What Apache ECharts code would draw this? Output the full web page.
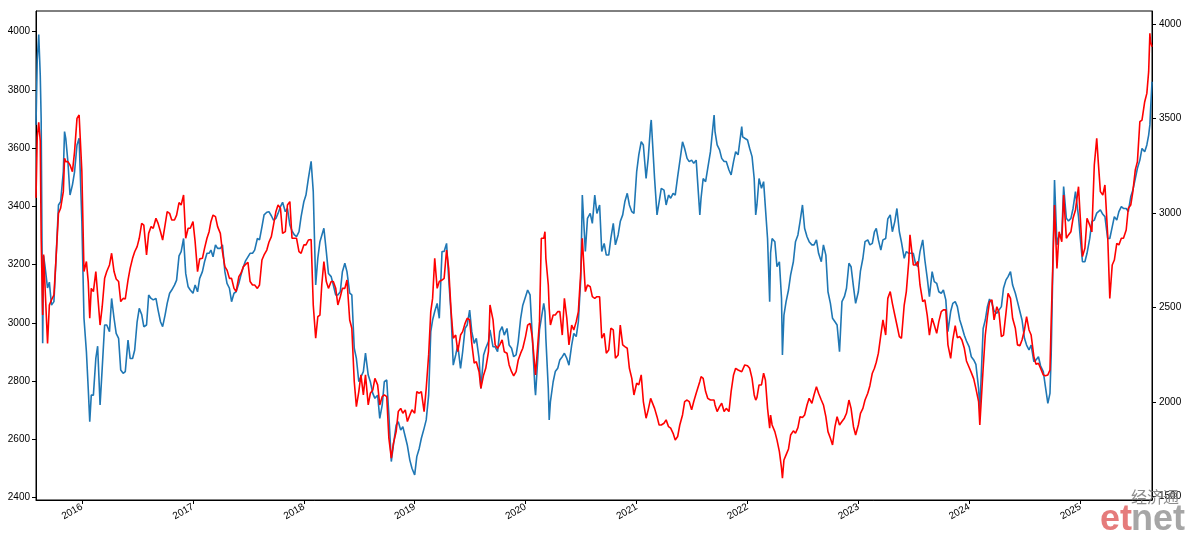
<!DOCTYPE html>
<html>
<head>
<meta charset="utf-8">
<script src="https://cdn.jsdelivr.net/npm/echarts@6/dist/echarts.min.js"></script>
<style>
html,body{margin:0;padding:0;background:#fff;}
#chart{width:1188px;height:535px;}
</style>
</head>
<body>
<div id="chart"></div>
<script>
const dates = [
// 2015
'2015-08-03','2015-08-07','2015-08-12','2015-08-17','2015-08-20','2015-08-25','2015-08-28','2015-09-01','2015-09-10','2015-09-16','2015-09-23','2015-10-01','2015-10-08','2015-10-16','2015-10-23','2015-11-01','2015-11-05','2015-11-09','2015-11-16','2015-11-23','2015-12-01','2015-12-08','2015-12-16','2015-12-23',
// 2016
'2016-01-01','2016-01-08','2016-01-16','2016-01-22','2016-01-27','2016-02-01','2016-02-08','2016-02-16','2016-02-22','2016-03-01','2016-03-08','2016-03-16','2016-03-23','2016-04-01','2016-04-08','2016-04-16','2016-04-23','2016-05-01','2016-05-08','2016-05-16','2016-05-23','2016-06-01','2016-06-08','2016-06-16','2016-06-23','2016-07-01','2016-07-08','2016-07-16','2016-07-23','2016-08-01','2016-08-08','2016-08-16','2016-08-23','2016-09-01','2016-09-08','2016-09-16','2016-09-23','2016-10-01','2016-10-08','2016-10-16','2016-10-23','2016-11-01','2016-11-08','2016-11-16','2016-11-23','2016-12-01','2016-12-08','2016-12-16','2016-12-23',
// 2017
'2017-01-01','2017-01-08','2017-01-16','2017-01-23','2017-02-01','2017-02-08','2017-02-16','2017-02-23','2017-03-01','2017-03-08','2017-03-16','2017-03-23','2017-04-01','2017-04-08','2017-04-16','2017-04-23','2017-05-01','2017-05-08','2017-05-16','2017-05-23','2017-06-01','2017-06-08','2017-06-16','2017-06-23','2017-07-01','2017-07-08','2017-07-16','2017-07-23','2017-08-01','2017-08-08','2017-08-16','2017-08-23','2017-09-01','2017-09-08','2017-09-16','2017-09-23','2017-10-01','2017-10-08','2017-10-16','2017-10-23','2017-11-01','2017-11-08','2017-11-16','2017-11-23','2017-12-01','2017-12-08','2017-12-16','2017-12-23',
// 2018
'2018-01-01','2018-01-08','2018-01-16','2018-01-25','2018-02-01','2018-02-09','2018-02-16','2018-02-23','2018-03-01','2018-03-08','2018-03-16','2018-03-23','2018-04-01','2018-04-08','2018-04-16','2018-04-23','2018-05-01','2018-05-08','2018-05-16','2018-05-23','2018-06-01','2018-06-08','2018-06-16','2018-06-23','2018-07-01','2018-07-08','2018-07-16','2018-07-23','2018-08-01','2018-08-08','2018-08-16','2018-08-23','2018-09-01','2018-09-08','2018-09-16','2018-09-23','2018-10-01','2018-10-08','2018-10-16','2018-10-23','2018-11-01','2018-11-08','2018-11-16','2018-11-23','2018-12-01','2018-12-08','2018-12-16','2018-12-23',
// 2019
'2019-01-01','2019-01-08','2019-01-16','2019-01-23','2019-02-01','2019-02-08','2019-02-16','2019-02-23','2019-03-01','2019-03-08','2019-03-16','2019-03-23','2019-04-01','2019-04-08','2019-04-16','2019-04-23','2019-05-01','2019-05-08','2019-05-16','2019-05-23','2019-06-01','2019-06-08','2019-06-16','2019-06-23','2019-07-01','2019-07-08','2019-07-16','2019-07-23','2019-08-01','2019-08-07','2019-08-16','2019-08-23','2019-09-01','2019-09-06','2019-09-16','2019-09-23','2019-10-01','2019-10-08','2019-10-16','2019-10-23','2019-11-01','2019-11-08','2019-11-16','2019-11-23','2019-12-01','2019-12-08','2019-12-16','2019-12-23',
// 2020
'2020-01-01','2020-01-08','2020-01-16','2020-01-23','2020-02-01','2020-02-03','2020-02-16','2020-02-22','2020-03-01','2020-03-05','2020-03-08','2020-03-16','2020-03-19','2020-03-23','2020-04-01','2020-04-08','2020-04-16','2020-04-23','2020-05-01','2020-05-08','2020-05-16','2020-05-23','2020-06-01','2020-06-08','2020-06-16','2020-06-23','2020-07-01','2020-07-06','2020-07-16','2020-07-23','2020-08-01','2020-08-08','2020-08-16','2020-08-23','2020-09-01','2020-09-08','2020-09-16','2020-09-23','2020-10-01','2020-10-08','2020-10-16','2020-10-23','2020-11-01','2020-11-08','2020-11-16','2020-11-23','2020-12-01','2020-12-08','2020-12-16','2020-12-23',
// 2021
'2021-01-01','2021-01-08','2021-01-16','2021-01-23','2021-02-01','2021-02-08','2021-02-16','2021-02-18','2021-03-01','2021-03-09','2021-03-16','2021-03-23','2021-04-01','2021-04-08','2021-04-16','2021-04-23','2021-05-01','2021-05-08','2021-05-16','2021-05-23','2021-06-01','2021-06-08','2021-06-16','2021-06-23','2021-07-01','2021-07-08','2021-07-16','2021-07-28','2021-08-01','2021-08-08','2021-08-16','2021-08-23','2021-09-01','2021-09-13','2021-09-16','2021-09-23','2021-10-01','2021-10-08','2021-10-16','2021-10-23','2021-11-01','2021-11-08','2021-11-16','2021-11-23','2021-12-01','2021-12-13','2021-12-16','2021-12-23',
// 2022
'2022-01-01','2022-01-08','2022-01-16','2022-01-23','2022-01-28','2022-02-01','2022-02-08','2022-02-16','2022-02-23','2022-03-01','2022-03-08','2022-03-15','2022-03-18','2022-03-23','2022-04-01','2022-04-08','2022-04-16','2022-04-23','2022-04-26','2022-05-01','2022-05-08','2022-05-16','2022-05-23','2022-06-01','2022-06-08','2022-06-16','2022-06-23','2022-07-01','2022-07-08','2022-07-16','2022-07-23','2022-08-01','2022-08-08','2022-08-16','2022-08-23','2022-09-01','2022-09-08','2022-09-16','2022-09-23','2022-10-01','2022-10-08','2022-10-16','2022-10-23','2022-10-31','2022-11-08','2022-11-16','2022-11-23','2022-12-01','2022-12-08','2022-12-16','2022-12-23',
// 2023
'2023-01-01','2023-01-08','2023-01-16','2023-01-23','2023-02-01','2023-02-08','2023-02-16','2023-02-23','2023-03-01','2023-03-08','2023-03-16','2023-03-23','2023-04-01','2023-04-08','2023-04-16','2023-04-23','2023-05-01','2023-05-08','2023-05-16','2023-05-23','2023-06-01','2023-06-08','2023-06-16','2023-06-20','2023-07-01','2023-07-08','2023-07-16','2023-07-23','2023-08-01','2023-08-08','2023-08-16','2023-08-23','2023-09-01','2023-09-08','2023-09-16','2023-09-23','2023-10-01','2023-10-08','2023-10-16','2023-10-23','2023-11-01','2023-11-08','2023-11-16','2023-11-23','2023-12-01','2023-12-08','2023-12-16','2023-12-23',
// 2024
'2024-01-01','2024-01-08','2024-01-16','2024-01-23','2024-02-01','2024-02-05','2024-02-16','2024-02-23','2024-03-01','2024-03-08','2024-03-16','2024-03-23','2024-04-01','2024-04-08','2024-04-16','2024-04-23','2024-05-01','2024-05-08','2024-05-16','2024-05-23','2024-06-01','2024-06-08','2024-06-16','2024-06-23','2024-07-01','2024-07-08','2024-07-16','2024-07-23','2024-08-01','2024-08-08','2024-08-16','2024-08-23','2024-09-01','2024-09-08','2024-09-16','2024-09-23','2024-09-27','2024-10-08','2024-10-16','2024-10-23','2024-11-01','2024-11-07','2024-11-16','2024-11-23','2024-12-01','2024-12-08','2024-12-16','2024-12-26',
// 2025
'2025-01-01','2025-01-08','2025-01-16','2025-01-23','2025-02-01','2025-02-08','2025-02-16','2025-02-24','2025-03-01','2025-03-08','2025-03-16','2025-03-23','2025-04-01','2025-04-08','2025-04-16','2025-04-23','2025-05-01','2025-05-08','2025-05-16','2025-05-23','2025-06-01','2025-06-08','2025-06-16','2025-06-23','2025-07-01','2025-07-08','2025-07-16','2025-07-23','2025-08-01','2025-08-08','2025-08-14','2025-08-18','2025-08-20','2025-08-25'
];

// blue line, read on the left axis
const leftValues = [
// 2015
3680,3900,3990,3850,3700,2930,3230,3200,3120,3140,3061,3073,3222,3405,3416,3520,3657,3634,3554,3439,3474,3519,3611,3634,
// 2016
3348,3016,2901,2775,2661, 2752,2752,2878,2920, 2718,2844,2993,2993, 2970,3084,3016,2964, 2947,2838,2827,2833, 2941,2878,2878,2907, 3004,3050,3029,2987, 2993,3096,3084,3079, 3084,3044,3004,2987, 3027,3067,3102,3113, 3130,3147,3230,3245, 3290,3170,3124,3113,
// 2017
3102,3130,3107,3153, 3176,3210,3239,3239, 3250,3227,3268,3256, 3256,3268,3176,3136, 3119,3073,3102,3107, 3136,3165,3193,3213, 3227,3239,3239,3250, 3290,3285,3330,3371, 3380,3382,3368,3353, 3359,3376,3399,3414, 3382,3393,3336,3316, 3302,3296,3313,3365,
// 2018
3416,3439,3496,3555, 3451,3130,3222,3279, 3279,3325,3245,3170, 3159,3130,3096,3096, 3107,3176,3205,3176, 3102,3096,2913,2878, 2798,2815,2833,2896, 2821,2798,2758,2741, 2752,2672,2718,2798, 2804,2684,2524,2581, 2649,2661,2632,2644, 2609,2579,2529,2501,
// 2019
2478,2541,2569,2604, 2638,2667,2752,2970, 3010,3039,3067,3016, 3245,3245,3273,3153, 3027,2855,2890,2924, 2844,2901,2981,2993, 3044,2970,2930,2947, 2878,2775,2890,2913, 2936,2976,2918,2918, 2901,2970,2987,2958, 2981,2924,2913,2884, 2890,2936,3016,3061,
// 2020
3090,3113,3096,2958, 2775,2752,2976,3016, 3067,3039,2947,2775,2667,2730, 2798,2833,2844,2873, 2884,2896,2878,2855, 2924,2964,2953,3004, 3153,3439,3245,3359, 3376,3342,3439,3376, 3405,3245,3273,3233, 3233,3290,3342,3268, 3302,3348,3371,3416, 3445,3405,3382,3376,
// 2021
3519,3577,3622,3611, 3496,3565,3680,3697, 3496,3371,3416,3462, 3456,3405,3439,3428, 3445,3439,3502,3554, 3622,3599,3565,3554, 3559,3548,3559,3371, 3428,3496,3485,3531, 3588,3714,3657,3611, 3594,3565,3554,3554, 3525,3508,3554,3588, 3577,3674,3639,3634,
// 2022
3628,3600,3571,3496,3371, 3405,3496,3462,3485, 3491,3290,3073,3240,3290, 3279,3193,3210,3084,2890, 3027,3073,3113,3165, 3210,3279,3302,3348, 3405,3325,3296,3279, 3268,3268,3285,3239, 3210,3268,3233,3107, 3067,3016,3004,2993,2901, 3073,3090,3119, 3205,3193,3124,3067,
// 2023
3107,3179,3222,3279, 3285,3268,3273,3313, 3325,3285,3250,3285, 3290,3357,3371,3313, 3348,3393,3313,3277, 3222,3245,3239,3233, 3239,3205,3193,3245, 3285,3216,3153,3090, 3176,3142,3136,3107, 3102,3113,3079,2970, 3039,3067,3073,3056, 3010,2987,2958,2938,
// 2024
2918,2884,2873,2858, 2775,2701,2981,3010, 3056,3082,3067,3041, 3033,3044,3056,3119, 3147,3159,3176,3130, 3102,3073,3039,3010, 2947,2924,2907,2924, 2867,2873,2884,2853, 2833,2781,2724,2758,2890, 3491,3268,3302, 3302,3468,3359,3350, 3359,3393,3451,3365,
// 2025
3290,3210,3210,3239, 3290,3348,3353,3377, 3371,3388,3373,3365, 3290,3290,3330,3365, 3353,3382,3399,3393, 3393,3382,3433,3456, 3496,3531,3559,3599, 3588,3611,3645,3680,3725,3828
];

// red line, read on the right axis
const rightValues = [
// 2015
3080,3400,3480,3380,2870,2460,2780,2637,2310,2513,2540,2566,2760,2998,3025,3113,3289,3272,3272,3254,3219,3325,3501,3519,
// 2016
3219,2690,2743,2637,2443, 2601,2584,2690,2690, 2407,2504,2654,2690, 2725,2787,2690,2651, 2637,2531,2548,2545, 2645,2707,2760,2795, 2822,2866,2945,2936, 2778,2892,2928,2919, 2972,2945,2901,2857, 2936,3007,2998,2963, 2963,2989,3055,3042, 3095,2866,2919,2919,
// 2017
2954,2848,2690,2757, 2760,2813,2866,2901, 2954,2989,2981,2928, 2892,2795,2716,2698, 2654,2654,2601,2584, 2663,2681,2716,2728, 2739,2637,2619,2619, 2601,2619,2751,2778, 2804,2845,2875,2936, 3007,3042,3025,2892, 2901,3042,3060,2866, 2866,2866,2795,2787,
// 2018
2831,2831,2857,2860, 2513,2337,2451,2460, 2619,2743,2637,2601, 2637,2637,2601,2513, 2557,2601,2601,2645, 2434,2390,2108,1975, 2055,2143,2037,2143, 1984,2046,2063,2125, 2090,1984,2028,2037, 2028,1808,1702,1781, 1843,1949,1966,1940, 1958,1896,1931,1958,
// 2019
1940,2055,2046,2055, 1949,2072,2249,2478, 2548,2760,2601,2637, 2645,2654,2804,2707, 2478,2337,2354,2266, 2354,2372,2416,2443, 2434,2310,2205,2213, 2160,2072,2143,2178, 2266,2513,2434,2302, 2284,2302,2328,2266, 2258,2196,2160,2138, 2160,2222,2258,2284,
// 2020
2346,2407,2416,2346, 2178,2143,2425,2866, 2866,2901,2760,2619,2496,2407, 2460,2460,2478,2478, 2354,2548,2443,2302, 2407,2381,2425,2478, 2690,2866,2584,2619, 2610,2557,2548,2557, 2557,2337,2363,2258, 2275,2390,2381,2231, 2249,2407,2302,2293, 2284,2178,2125,2037,
// 2021
2099,2090,2143,2002, 1914,1958,2019,2019, 1966,1922,1878,1878, 1887,1905,1869,1861, 1834,1799,1817,1878, 1931,2002,2010,2002, 1958,2002,2046,2108, 2134,2125,2055,2019, 2010,2010,1984,1949, 1975,1993,1949,1966, 1949,2055,2143,2178, 2169,2160,2169,2196,
// 2022
2192,2178,2125,2037,2010, 2023,2090,2090,2152, 2116,1966,1861,1930,1878, 1843,1799,1737,1649,1596, 1693,1720,1751,1825, 1847,1834,1864,1922, 1917,1931,1984,2019, 1993,2037,2081,2046, 2010,1984,1922,1843, 1808,1772,1869,1922,1878, 1896,1914,1940, 2010,1966,1869,1825,
// 2023
1878,1940,1966,2010, 2046,2086,2152,2178, 2210,2258,2354,2434, 2354,2548,2584,2522, 2460,2407,2346,2337, 2513,2584,2743,2884, 2725,2725,2743,2619, 2531,2540,2457,2354, 2443,2407,2363,2425, 2478,2487,2487,2302, 2231,2328,2404,2340, 2346,2328,2284,2217,
// 2024
2182,2155,2122,2072, 2002,1878,2178,2354, 2451,2531,2540,2434, 2504,2474,2346,2354, 2469,2575,2548,2443, 2390,2302,2298,2328, 2381,2451,2381,2354, 2240,2199,2205,2178, 2143,2139,2143,2169,2425, 3042,2707,2901, 2848,3095,2866,2884, 2901,2972,3016,3139,
// 2025
2972,2769,2813,2972, 2936,2900,3254,3395, 3272,3113,3095,3148, 2884,2548,2725,2751, 2839,2831,2866,2866, 2910,3025,3042,3113, 3228,3272,3483,3492, 3589,3633,3748,3951,3907,3880
];

const chart = echarts.init(document.getElementById('chart'), null, {renderer: 'canvas'});
const FONT = '"Liberation Sans", Arial, sans-serif';
const DAY = 24 * 3600 * 1000;
const plain = v => String(v);

const baseAxis = {
  axisLine: {show: true, onZero: false, lineStyle: {color: '#000', width: 1}},
  axisTick: {show: true, length: 4, lineStyle: {color: '#000', width: 1}},
  splitLine: {show: false}
};

chart.setOption({
  animation: false,
  backgroundColor: '#fff',
  grid: {left: 36, right: 36, top: 11, bottom: 35, show: true, borderColor: '#000', borderWidth: 1, backgroundColor: 'transparent'},
  xAxis: Object.assign({}, baseAxis, {
    type: 'time',
    min: '2015-08-03',
    max: '2025-08-25',
    splitNumber: 10,
    minInterval: 300 * DAY,
    maxInterval: 366 * DAY,
    axisLabel: {
      formatter: '{yyyy}', rotate: 30, margin: 6, color: '#000', fontSize: 10, fontFamily: FONT,
      showMinLabel: false, showMaxLabel: false, hideOverlap: false
    }
  }),
  yAxis: [
    Object.assign({}, baseAxis, {
      type: 'value', position: 'left', min: 2392, max: 4071, minInterval: 200, maxInterval: 200,
      axisLabel: {formatter: plain, color: '#000', fontSize: 10, fontFamily: FONT, margin: 6, showMinLabel: false, showMaxLabel: false}
    }),
    Object.assign({}, baseAxis, {
      type: 'value', position: 'right', min: 1481, max: 4069, minInterval: 500, maxInterval: 500,
      axisLabel: {formatter: plain, color: '#000', fontSize: 10, fontFamily: FONT, margin: 7, showMinLabel: false, showMaxLabel: false}
    })
  ],
  series: [
    {
      type: 'line', yAxisIndex: 0, showSymbol: false, symbol: 'none',
      data: dates.map((d, i) => [d, leftValues[i]]),
      lineStyle: {color: '#1f77b4', width: 1.6}, z: 2
    },
    {
      type: 'line', yAxisIndex: 1, showSymbol: false, symbol: 'none',
      data: dates.map((d, i) => [d, rightValues[i]]),
      lineStyle: {color: '#ff0000', width: 1.6}, z: 3
    }
  ],
  graphic: [
    {type: 'text', left: 1131, top: 489, z: 100,
     style: {text: '经济通', fill: 'rgba(120,120,120,0.85)', font: '16px "Noto Sans CJK SC"'}},
    {type: 'text', left: 1100, top: 502, z: 100,
     style: {text: 'et', fill: 'rgba(222,90,90,0.8)', font: 'bold 36px "Liberation Sans"'}},
    {type: 'text', left: 1131, top: 502, z: 100,
     style: {text: 'net', fill: 'rgba(150,150,150,0.85)', font: 'bold 36px "Liberation Sans"'}}
  ]
});
</script>
</body>
</html>
